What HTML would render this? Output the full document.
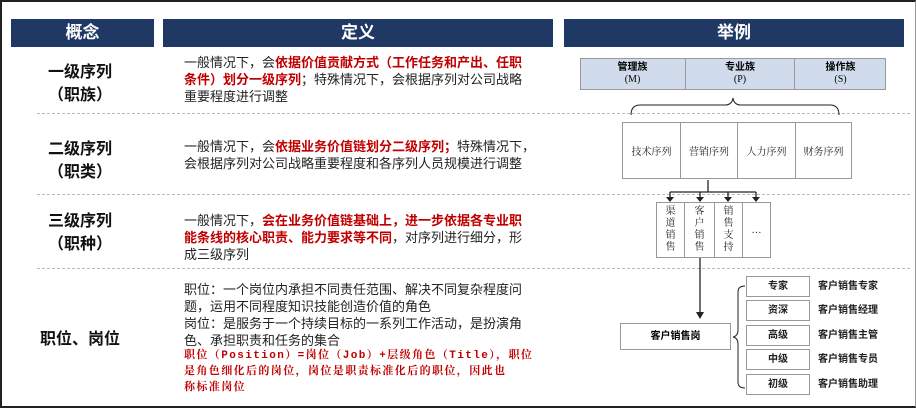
<!DOCTYPE html>
<html><head><meta charset="utf-8"><style>
*{margin:0;padding:0;box-sizing:border-box}
body{width:916px;height:408px;position:relative;background:#fff;font-family:"Liberation Sans","Noto Sans CJK SC",sans-serif;overflow:hidden}
.a{position:absolute}
.hd{position:absolute;top:19px;height:28px;background:#203864;color:#fff;font-weight:bold;font-size:17px;text-align:center;line-height:28px}
.dash{position:absolute;left:37px;width:873px;border-top:1px dashed #bbb;height:0}
.cn{position:absolute;left:20px;width:120px;text-align:center;font-weight:bold;font-size:16px;line-height:23px;color:#111}
.tx{position:absolute;left:184px;font-size:13px;line-height:17px;color:#222;white-space:nowrap}
.r{color:#c00000;font-weight:bold}
.box{position:absolute;border:1px solid #999;background:#fff;display:flex;align-items:center;justify-content:center;font-size:10px;color:#222;font-family:"Liberation Serif","Noto Serif CJK SC",serif}
.v{line-height:12px;text-align:center;width:10px;word-break:break-all}
.lv{position:absolute;left:746px;width:64px;height:21px;border:1px solid #999;font-size:10px;font-weight:bold;text-align:center;line-height:19px;color:#222}
.lb{position:absolute;left:818px;font-size:10px;font-weight:bold;color:#222;line-height:21px}
</style></head><body>
<div class="a" style="left:0;top:0;width:916px;height:408px;border-top:2px solid #222;border-left:2px solid #222;border-bottom:2px solid #222;border-right:1px solid #999"></div>
<div class="hd" style="left:11px;width:143px">概念</div>
<div class="hd" style="left:163px;width:390px">定义</div>
<div class="hd" style="left:564px;width:340px">举例</div>
<div class="dash" style="top:113px"></div>
<div class="dash" style="top:194px"></div>
<div class="dash" style="top:268px"></div>

<div class="cn" style="top:61px">一级序列<br>（职族）</div>
<div class="cn" style="top:138px">二级序列<br>（职类）</div>
<div class="cn" style="top:210px">三级序列<br>（职种）</div>
<div class="cn" style="top:328px">职位、岗位</div>

<div class="tx" style="top:54px">一般情况下，会<span class="r">依据价值贡献方式（工作任务和产出、任职</span><br><span class="r">条件）划分一级序列</span>；特殊情况下，会根据序列对公司战略<br>重要程度进行调整</div>
<div class="tx" style="top:138px">一般情况下，会<span class="r">依据业务价值链划分二级序列；</span>特殊情况下，<br>会根据序列对公司战略重要程度和各序列人员规模进行调整</div>
<div class="tx" style="top:212px">一般情况下，<span class="r">会在业务价值链基础上，进一步依据各专业职</span><br><span class="r">能条线的核心职责、能力要求等不同</span>，对序列进行细分，形<br>成三级序列</div>
<div class="tx" style="top:281px">职位：一个岗位内承担不同责任范围、解决不同复杂程度问<br>题，运用不同程度知识技能创造价值的角色<br>岗位：是服务于一个持续目标的一系列工作活动，是扮演角<br>色、承担职责和任务的集合</div>
<div class="a" style="left:184px;top:348px;white-space:nowrap;font-size:11px;line-height:16px;letter-spacing:1.4px;color:#c00000;font-weight:bold;font-family:'Liberation Mono','Noto Serif CJK SC',serif">职位（Position）=岗位（Job）+层级角色（Title），职位<br>是角色细化后的岗位，岗位是职责标准化后的职位，因此也<br>称标准岗位</div>

<!-- families -->
<div class="a" style="left:580px;top:58px;width:306px;height:32px;background:#d0dcec;border:1px solid #999"></div>
<div class="a" style="left:685px;top:58px;width:110px;height:32px;border-left:1px solid #999;border-right:1px solid #999"></div>
<div class="a" style="left:580px;top:62px;width:105px;text-align:center;font-size:10px;line-height:12px;font-weight:bold">管理族<br><span style="font-weight:normal;font-family:'Liberation Serif',serif">(M)</span></div>
<div class="a" style="left:685px;top:62px;width:110px;text-align:center;font-size:10px;line-height:12px;font-weight:bold">专业族<br><span style="font-weight:normal;font-family:'Liberation Serif',serif">(P)</span></div>
<div class="a" style="left:795px;top:62px;width:91px;text-align:center;font-size:10px;line-height:12px;font-weight:bold">操作族<br><span style="font-weight:normal;font-family:'Liberation Serif',serif">(S)</span></div>
<svg class="a" style="left:0;top:0" width="916" height="408">
<path d="M631 115 Q631 105 640 105 L725 105 Q732 105 733 98 Q734 105 741 105 L830 105 Q839 105 839 115" fill="none" stroke="#222" stroke-width="1"/>
<path d="M708 180 V192 M670 192 H756" stroke="#222" stroke-width="1.3" fill="none"/>
<path d="M670 192V198 M700 192V198 M728 192V198 M756 192V198" stroke="#222" stroke-width="1.3"/>
<path d="M666 197 h8 l-4 5z M696 197 h8 l-4 5z M724 197 h8 l-4 5z M752 197 h8 l-4 5z" fill="#222"/>
<path d="M700 258 V313" stroke="#222" stroke-width="1.3"/>
<path d="M696 312 h8 l-4 7z" fill="#222"/>
<path d="M745 286 Q738 286 738 292 L738 330 Q738 336 733 337 Q738 338 738 344 L738 382 Q738 388 745 388" fill="none" stroke="#222" stroke-width="1"/>
</svg>
<div class="box" style="left:622px;top:122px;width:59px;height:57px">技术序列</div>
<div class="box" style="left:680px;top:122px;width:58px;height:57px">营销序列</div>
<div class="box" style="left:737px;top:122px;width:59px;height:57px">人力序列</div>
<div class="box" style="left:795px;top:122px;width:57px;height:57px">财务序列</div>
<div class="box" style="left:656px;top:202px;width:29px;height:56px"><div class="v">渠道销售</div></div>
<div class="box" style="left:684px;top:202px;width:31px;height:56px"><div class="v">客户销售</div></div>
<div class="box" style="left:714px;top:202px;width:29px;height:56px"><div class="v">销售支持</div></div>
<div class="box" style="left:742px;top:202px;width:29px;height:56px">…</div>
<div class="a" style="left:620px;top:323px;width:111px;height:27px;border:1px solid #999;font-size:10px;font-weight:bold;text-align:center;line-height:25px">客户销售岗</div>
<div class="lv" style="top:276px">专家</div><div class="lb" style="top:276px">客户销售专家</div>
<div class="lv" style="top:300px">资深</div><div class="lb" style="top:300px">客户销售经理</div>
<div class="lv" style="top:325px">高级</div><div class="lb" style="top:325px">客户销售主管</div>
<div class="lv" style="top:349px">中级</div><div class="lb" style="top:349px">客户销售专员</div>
<div class="lv" style="top:374px">初级</div><div class="lb" style="top:374px">客户销售助理</div>
</body></html>
